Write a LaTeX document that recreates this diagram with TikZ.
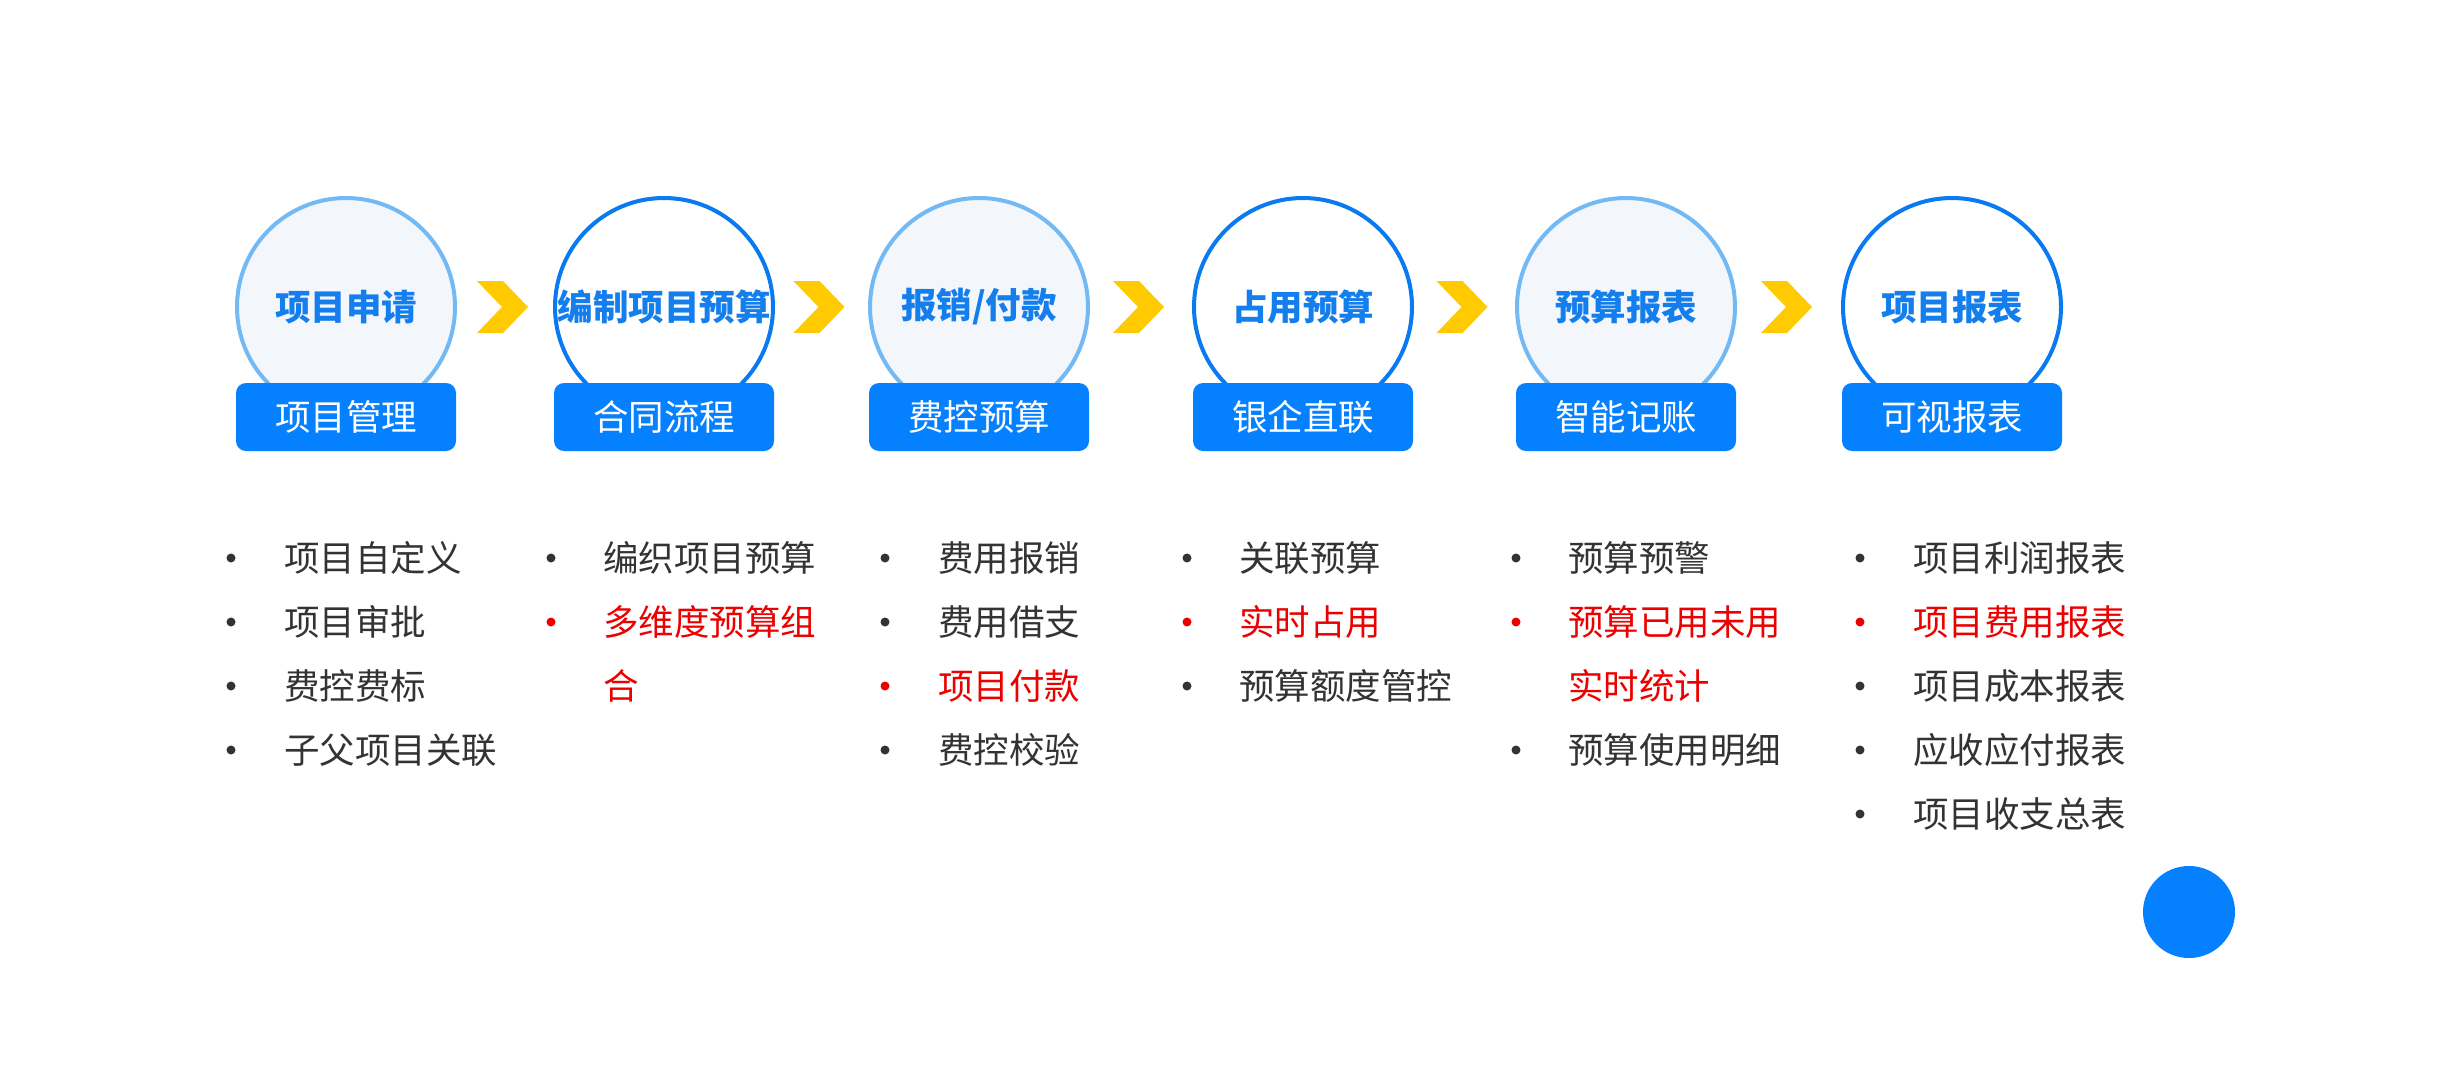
\documentclass[tikz,border=0pt]{standalone}
\usepackage{fontspec}
\setmainfont{Noto Sans CJK SC}
\usetikzlibrary{calc}
\definecolor{boxblue}{RGB}{5,128,255}
\definecolor{titleblue}{RGB}{20,126,236}
\definecolor{liteline}{RGB}{115,186,245}
\definecolor{litefill}{RGB}{243,247,252}
\definecolor{darkline}{RGB}{10,122,240}
\definecolor{chev}{RGB}{255,202,0}
\definecolor{txt}{RGB}{51,51,51}
\definecolor{hot}{RGB}{236,0,0}
\begin{document}
\begin{tikzpicture}[x=1pt, y=-1pt,
    stage/.style={circle, minimum size=218pt, line width=4pt, inner sep=0pt, text=titleblue, font=\fontsize{35.5}{40}\selectfont\bfseries},
    lite/.style={draw=liteline, fill=litefill},
    dark/.style={draw=darkline, fill=white},
    tag/.style={rectangle, rounded corners=10pt, fill=boxblue, minimum width=220pt, minimum height=68pt, text=white, font=\fontsize{35.5}{40}\selectfont},
    dot/.style={circle, inner sep=0pt, minimum size=9pt},
    item/.style={anchor=west, inner sep=0pt, font=\fontsize{35.5}{40}\selectfont}]
  \useasboundingbox[fill=white] (0,0) rectangle (2442,1070);
  % stages
  \foreach \x/\t/\s/\n/\st in {346/项目申请/项目管理/1/lite, 664/编制项目预算/合同流程/2/dark, 979/{报销/付款}/费控预算/3/lite,
      1303/占用预算/银企直联/4/dark, 1626/预算报表/智能记账/5/lite, 1952/项目报表/可视报表/6/dark} {
    \node[stage, \st] (c\n) at (\x,307) {\t};
    \node[tag] (b\n) at (\x,417) {\s};
  }
  % chevrons
  \foreach \a/\b in {1/2, 2/3, 3/4, 4/5, 5/6} {
    \coordinate (m\a) at ($(c\a)!0.5!(c\b)+(-3,0)$);
    \fill[chev] (m\a) ++(-25,-26) -- ++(26,0) -- ++(25,26) -- ++(-25,26) -- ++(-26,0) -- ++(25,-26) -- cycle;
  }
  % lists
  \foreach \t/\c [count=\i] in {项目自定义/txt, 项目审批/txt, 费控费标/txt, 子父项目关联/txt} {
    \node[dot, fill=\c] (d1\i) at (231,{558+64*(\i-1)}) {};
    \node[item, text=\c] (l1\i) at (284,{558+64*(\i-1)}) {\t};
  }
  \foreach \t/\c [count=\i] in {编织项目预算/txt, 多维度预算组/hot} {
    \node[dot, fill=\c] (d2\i) at (551,{558+64*(\i-1)}) {};
    \node[item, text=\c] (l2\i) at (603,{558+64*(\i-1)}) {\t};
  }
  \node[item, text=hot] (l23) at (603,686) {合};
  \foreach \t/\c [count=\i] in {费用报销/txt, 费用借支/txt, 项目付款/hot, 费控校验/txt} {
    \node[dot, fill=\c] (d3\i) at (885,{558+64*(\i-1)}) {};
    \node[item, text=\c] (l3\i) at (938,{558+64*(\i-1)}) {\t};
  }
  \foreach \t/\c [count=\i] in {关联预算/txt, 实时占用/hot, 预算额度管控/txt} {
    \node[dot, fill=\c] (d4\i) at (1187,{558+64*(\i-1)}) {};
    \node[item, text=\c] (l4\i) at (1239,{558+64*(\i-1)}) {\t};
  }
  \foreach \t/\c/\y in {预算预警/txt/558, 预算已用未用/hot/622, 预算使用明细/txt/750} {
    \node[dot, fill=\c] at (1516,\y) {};
    \node[item, text=\c] at (1568,\y) {\t};
  }
  \node[item, text=hot] (l53) at (1568,686) {实时统计};
  \foreach \t/\c [count=\i] in {项目利润报表/txt, 项目费用报表/hot, 项目成本报表/txt, 应收应付报表/txt, 项目收支总表/txt} {
    \node[dot, fill=\c] (d6\i) at (1860,{558+64*(\i-1)}) {};
    \node[item, text=\c] (l6\i) at (1913,{558+64*(\i-1)}) {\t};
  }
  % corner dot
  \node[circle, fill=boxblue, minimum size=92pt, inner sep=0pt] (knob) at (2189,912) {};
\end{tikzpicture}
\end{document}
